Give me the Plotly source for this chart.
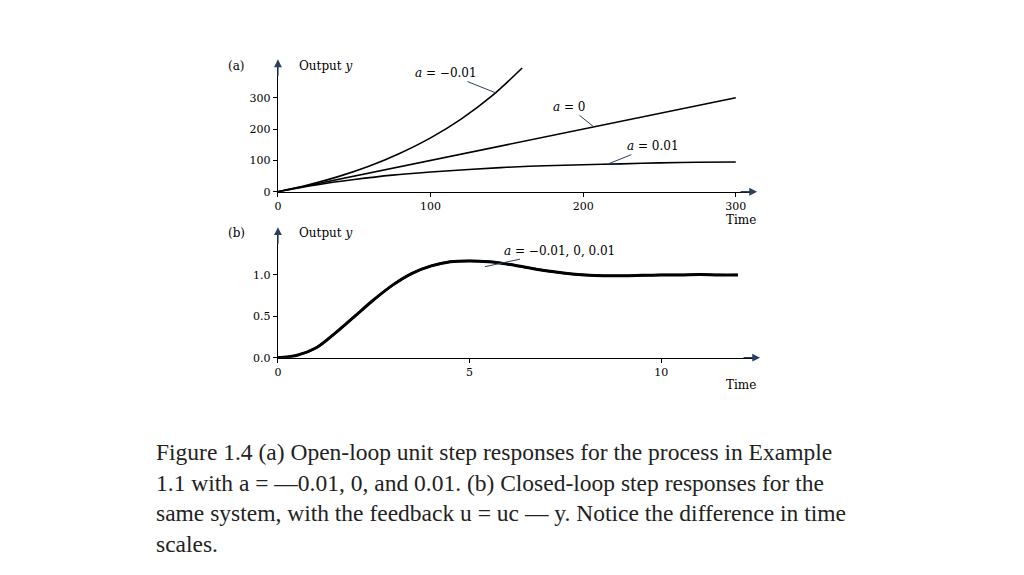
import plotly.graph_objects as go

# Panel (a): open-loop responses
t_neg = [0, 20, 40, 60, 80, 100, 120, 140, 160]
y_neg = [0, 22, 49, 82, 123, 172, 232, 305, 395]
t_zero = [0, 300]
y_zero = [0, 300]
t_pos = [0, 25, 50, 75, 100, 125, 150, 175, 200, 225, 250, 275, 300]
y_pos = [0, 22, 39, 53, 63, 71, 78, 83, 86, 89, 92, 94, 95]

# Panel (b): closed-loop response
t_cl = [0, 0.5, 1, 1.5, 2, 2.5, 3, 3.5, 4, 4.5, 5, 5.5, 6, 6.5, 7, 7.5, 8, 8.5, 9, 9.5, 10, 10.5, 11, 11.5, 12]
y_cl = [0, 0.03, 0.12, 0.3, 0.5, 0.7, 0.88, 1.02, 1.11, 1.16, 1.17, 1.16, 1.13, 1.09, 1.05, 1.02, 1.0, 0.99, 0.99, 0.995, 1.0, 1.0, 1.005, 1.0, 1.0]

a_xticks = [0, 100, 200, 300]
a_yticks = [0, 100, 200, 300]
b_xticks = [0, 5, 10]
b_yticks = [0.0, 0.5, 1.0]
b_yticklabels = ["0.0", "0.5", "1.0"]

fig = go.Figure()
ln = dict(color="black", width=1.6)
fig.add_trace(go.Scatter(x=t_neg, y=y_neg, mode="lines", line=dict(color="black", width=1.6, shape="spline"), xaxis="x", yaxis="y"))
fig.add_trace(go.Scatter(x=t_zero, y=y_zero, mode="lines", line=ln, xaxis="x", yaxis="y"))
fig.add_trace(go.Scatter(x=t_pos, y=y_pos, mode="lines", line=dict(color="black", width=1.6, shape="spline"), xaxis="x", yaxis="y"))
for w in [3, 2.2]:
    fig.add_trace(go.Scatter(x=t_cl, y=y_cl, mode="lines", line=dict(color="black", width=w, shape="spline"), xaxis="x2", yaxis="y2"))

W, H = 1024, 575
def px(x): return x / W
def py(y): return 1 - y / H

tf = dict(family="DejaVu Serif", size=11, color="black")
axcommon = dict(showgrid=False, zeroline=False, showline=True, linecolor="black", linewidth=1.3,
                ticks="outside", ticklen=4, tickcolor="black", tickfont=tf)
fig.update_layout(
    width=W, height=H, margin=dict(l=0, r=0, t=0, b=0), showlegend=False,
    paper_bgcolor="white", plot_bgcolor="white",
    xaxis=dict(domain=[px(267), px(745)], range=[0, 312], anchor="y", tickvals=a_xticks, **axcommon),
    yaxis=dict(domain=[py(186), py(55)], range=[0, 413], anchor="x", tickvals=a_yticks, **axcommon),
    xaxis2=dict(domain=[px(267), px(748)], range=[0, 12.5], anchor="y2", tickvals=b_xticks, **axcommon),
    yaxis2=dict(domain=[py(354), py(225)], range=[0, 1.54], anchor="x2", tickvals=b_yticks, ticktext=b_yticklabels, **axcommon),
)

lf = dict(family="DejaVu Serif", size=12, color="black")
def txt(x, y, s, xa="left"):
    fig.add_annotation(xref="paper", yref="paper", x=px(x), y=py(y), text=s, showarrow=False, font=lf, xanchor=xa, yanchor="middle")

txt(215, 59, "(a)"); txt(286, 59, "Output <i>y</i>")
txt(215, 228, "(b)"); txt(286, 228, "Output <i>y</i>")
txt(749, 215, "Time", "right"); txt(749, 382, "Time", "right")

# axis arrowheads
for (x1, y1, ax, ay) in [(267, 52, 0, 18), (748, 186, -18, 0), (267, 222, 0, 18), (751, 354, -18, 0)]:
    fig.add_annotation(xref="paper", yref="paper", x=px(x1), y=py(y1), ax=ax, ay=ay,
                       showarrow=True, arrowhead=2, arrowsize=1.2, arrowwidth=1.3, text="")

def lab(xr, yr, x, y, ax, ay, s):
    fig.add_annotation(xref=xr, yref=yr, x=x, y=y, ax=ax, ay=ay, text=s, showarrow=True, arrowhead=0,
                       arrowwidth=1, font=lf, standoff=0)
lab("x", "y", 143, 315, -50, -20, "<i>a</i> = −0.01")
lab("x", "y", 207, 207, -25, -20, "<i>a</i> = 0")
lab("x", "y", 216, 88, 45, -18, "<i>a</i> = 0.01")
lab("x2", "y2", 5.4, 1.1, 75, -16, "<i>a</i> = −0.01, 0, 0.01")

cap = ("Figure 1.4 (a) Open-loop unit step responses for the process in Example<br>"
       "1.1 with a = —0.01, 0, and 0.01. (b) Closed-loop step responses for the<br>"
       "same system, with the feedback u = uc — y. Notice the difference in time<br>"
       "scales.")
fig.add_annotation(xref="paper", yref="paper", x=px(143), y=py(434), text=cap, showarrow=False,
                   align="left", xanchor="left", yanchor="top",
                   font=dict(family="Liberation Serif", size=23.5, color="#222"))

fig.write_html("out.html")
